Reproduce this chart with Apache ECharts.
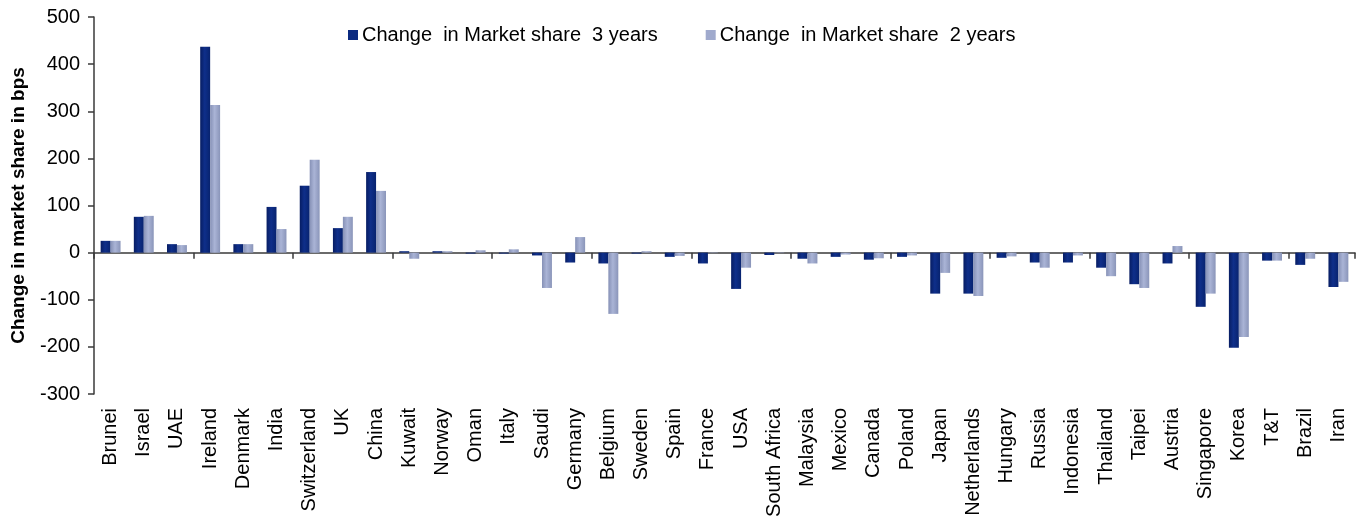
<!DOCTYPE html>
<html>
<head>
<meta charset="utf-8">
<script src="https://cdn.jsdelivr.net/npm/echarts@6/dist/echarts.min.js"></script>
<style>
html,body{margin:0;padding:0;background:#fff;}
#chart{width:1364px;height:516px;}
</style>
</head>
<body>
<div id="chart"></div>
<script>
const categories = ["Brunei","Israel","UAE","Ireland","Denmark","India","Switzerland","UK","China","Kuwait","Norway","Oman","Italy","Saudi","Germany","Belgium","Sweden","Spain","France","USA","South Africa","Malaysia","Mexico","Canada","Poland","Japan","Netherlands","Hungary","Russia","Indonesia","Thailand","Taipei","Austria","Singapore","Korea","T&T","Brazil","Iran"];
const change3Years = [25,76,18,437,18,97,142,52,171,3,3,-2,-2,-6,-21,-23,-2,-9,-23,-77,-5,-13,-9,-15,-9,-87,-87,-11,-21,-21,-32,-67,-23,-115,-202,-17,-26,-73];
const change2Years = [25,78,16,313,18,50,197,76,131,-13,3,5,7,-75,33,-130,3,-7,-1,-32,-1,-23,-4,-12,-6,-43,-92,-8,-32,-6,-50,-75,14,-87,-179,-17,-13,-62];
const yTicks = {min:-300, max:500, interval:100};
const seriesNames = ["Change  in Market share  3 years","Change  in Market share  2 years"];

const font = 'Liberation Sans, Arial, sans-serif';
const darkGrad = {type:'linear',x:0,y:0,x2:1,y2:0,colorStops:[{offset:0,color:'#071d63'},{offset:0.45,color:'#0f2f8a'},{offset:1,color:'#08236f'}]};
const lightGrad = {type:'linear',x:0,y:0,x2:1,y2:0,colorStops:[{offset:0,color:'#8691b6'},{offset:0.45,color:'#aab4d6'},{offset:1,color:'#8a95b9'}]};
const axisColor = '#3a3a3a';

const chart = echarts.init(document.getElementById('chart'), null, {renderer:'canvas'});
chart.setOption({
  animation:false,
  backgroundColor:'#ffffff',
  textStyle:{fontFamily:font},
  legend:{
    left:348, top:25, padding:0, itemWidth:10, itemHeight:10, itemGap:48,
    icon:'rect',
    textStyle:{fontFamily:font, fontSize:20, color:'#000', padding:[0,0,0,-1]},
    data:[{name:seriesNames[0], itemStyle:{color:'#0b2a80'}},{name:seriesNames[1], itemStyle:{color:'#a0aacd'}}]
  },
  grid:{left:94, right:9, top:17, bottom:122, containLabel:false, outerBoundsMode:'none'},
  xAxis:[{
    type:'category', data:categories, position:'bottom',
    axisLine:{onZero:true, lineStyle:{color:axisColor, width:1.5}},
    axisTick:{show:true, length:6, lineStyle:{color:axisColor, width:1.5}},
    axisLabel:{show:false}
  },{
    type:'category', data:categories, position:'bottom',
    axisLine:{show:false, onZero:false}, axisTick:{show:false},
    axisLabel:{show:true, rotate:90, margin:14, interval:0, fontFamily:font, fontSize:20, color:'#000'}
  }],
  yAxis:{
    type:'value', min:yTicks.min, max:yTicks.max, interval:yTicks.interval,
    name:'Change in market share in bps', nameLocation:'middle', nameGap:66, nameRotate:90,
    nameTextStyle:{fontFamily:font, fontSize:19, fontWeight:'bold', color:'#000'},
    axisLine:{show:true, lineStyle:{color:axisColor, width:1.5}},
    axisTick:{show:true, length:6, lineStyle:{color:axisColor, width:1.5}},
    axisLabel:{margin:14, fontFamily:font, fontSize:20, color:'#000'},
    splitLine:{show:false}
  },
  series:[{
    name:seriesNames[0], type:'bar', xAxisIndex:0, data:change3Years,
    barWidth:'30%', barGap:'0%', itemStyle:{color:darkGrad}
  },{
    name:seriesNames[1], type:'bar', xAxisIndex:0, data:change2Years,
    barWidth:'30%', barGap:'0%', itemStyle:{color:lightGrad}
  }]
});
</script>
</body>
</html>
